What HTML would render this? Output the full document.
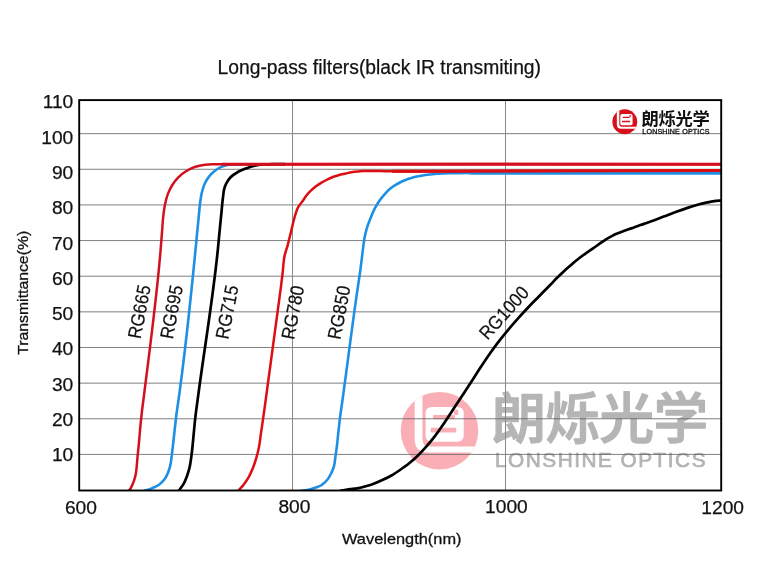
<!DOCTYPE html>
<html lang="en"><head><meta charset="utf-8"><title>Long-pass filters(black IR transmiting)</title>
<style>html,body{margin:0;padding:0;background:#fff}body{width:758px;height:561px;overflow:hidden}svg{display:block;will-change:transform}text{font-family:"Liberation Sans",sans-serif;paint-order:stroke}</style></head>
<body>
<svg width="758" height="561" viewBox="0 0 758 561">
<defs><clipPath id="cc"><circle cx="0" cy="0" r="1"/></clipPath><clipPath id="plot"><rect x="79" y="100" width="642.5" height="391"/></clipPath></defs>
<rect width="758" height="561" fill="#fff"/>
<g>
<circle cx="439.5" cy="430.7" r="38.8" fill="#f9afb5"/><g transform="translate(439.5,430.7) scale(38.8)" clip-path="url(#cc)"><path d="M-0.640,-1 V0.22 Q-0.640,0.56 -0.290,0.56 H1 V0.41 H-0.270 Q-0.440,0.41 -0.440,0.210 V-1 Z" fill="#fff"/><rect x="-0.358" y="-0.613" width="0.982" height="0.899" rx="0.15" fill="#fff"/><rect x="-0.165" y="-0.405" width="0.56" height="0.112" rx="0.03" fill="#f9afb5"/><rect x="-0.229" y="-0.077" width="0.66" height="0.121" rx="0.03" fill="#f9afb5"/><rect x="0.375" y="-0.54" width="0.11" height="0.135" fill="#f9afb5"/></g>
<g fill="#b5b5b5" stroke="#b5b5b5" stroke-width="1.3" stroke-linejoin="round"><text x="491.6" y="437.9" font-size="54.6" font-weight="500" textLength="216.5" lengthAdjust="spacing" style="font-family:'Liberation Sans','Noto Sans CJK SC',sans-serif">朗烁光学</text></g>
<text x="495" y="467.2" font-size="20.8" fill="#b3b3b3" stroke="#b3b3b3" stroke-width="0.7" textLength="210.5" lengthAdjust="spacing">LONSHINE OPTICS</text>
</g>
<g><line x1="80" x2="721" y1="133.65" y2="133.65" stroke="#606060" stroke-width="0.8"/><line x1="80" x2="721" y1="169.29" y2="169.29" stroke="#606060" stroke-width="0.8"/><line x1="80" x2="721" y1="204.93" y2="204.93" stroke="#606060" stroke-width="0.8"/><line x1="80" x2="721" y1="240.57" y2="240.57" stroke="#606060" stroke-width="0.8"/><line x1="80" x2="721" y1="276.21" y2="276.21" stroke="#606060" stroke-width="0.8"/><line x1="80" x2="721" y1="311.85" y2="311.85" stroke="#606060" stroke-width="0.8"/><line x1="80" x2="721" y1="347.49" y2="347.49" stroke="#606060" stroke-width="0.8"/><line x1="80" x2="721" y1="383.13" y2="383.13" stroke="#606060" stroke-width="0.8"/><line x1="80" x2="721" y1="418.77" y2="418.77" stroke="#606060" stroke-width="0.8"/><line x1="80" x2="721" y1="454.41" y2="454.41" stroke="#606060" stroke-width="0.8"/><line x1="292.5" x2="292.5" y1="100" y2="490" stroke="#888" stroke-width="1"/><line x1="505.5" x2="505.5" y1="100" y2="490" stroke="#888" stroke-width="1"/></g>
<g fill="none" stroke-width="2.4" stroke-linecap="butt" stroke-linejoin="round" clip-path="url(#plot)">
<path d="M300.0,491.0C302.0,490.8 304.0,490.6 306.0,490.3C309.2,489.8 312.3,488.9 315.3,487.8C317.6,486.9 320.1,486.1 322.1,484.7C324.4,483.2 326.4,481.0 328.1,478.8C329.4,477.0 330.4,474.9 331.4,472.9C332.4,470.7 333.4,468.4 334.0,466.1C334.8,463.4 334.9,460.4 335.3,457.6C335.7,454.8 336.1,452.0 336.5,449.2C337.2,444.1 337.6,439.0 338.2,433.9C338.8,428.8 339.3,423.7 339.9,418.6C340.7,412.4 341.6,406.2 342.5,400.0C347.6,363.4 352.0,326.7 357.4,290.1C358.3,283.8 359.3,277.6 360.2,271.3C361.0,265.1 361.7,259.0 362.5,252.8C363.2,247.4 363.7,241.9 364.8,236.5C365.4,233.4 366.2,230.3 367.1,227.3C368.1,224.1 369.4,221.1 370.6,218.0C372.0,214.5 373.4,210.9 375.2,207.6C376.9,204.5 378.8,201.4 381.0,198.6C382.3,196.9 383.6,195.3 385.0,193.8C386.7,192.0 388.4,190.2 390.3,188.6C392.0,187.2 393.8,186.0 395.6,184.9C397.3,183.9 399.0,182.9 400.8,182.0C402.5,181.1 404.3,180.4 406.1,179.7C407.8,179.0 409.6,178.4 411.4,177.9C413.1,177.4 414.9,177.0 416.7,176.6C418.4,176.2 420.2,175.9 421.9,175.6C423.7,175.3 425.4,175.0 427.2,174.8C429.0,174.6 430.7,174.4 432.5,174.2C434.3,174.0 436.0,173.9 437.8,173.8C441.3,173.6 444.8,173.4 448.3,173.3C451.8,173.2 455.4,173.1 458.9,173.1C465.9,173.0 473.0,173.1 480.0,173.1C560.3,173.1 640.7,173.1 721.0,173.1" stroke="#1e90e4" stroke-width="2.6"/>
<path d="M470,173.1 L722,173.1" stroke="#1e90e4" stroke-width="3.0"/>
<path d="M144.0,491.0C145.3,490.6 146.7,490.3 148.0,489.8C149.4,489.3 150.8,488.7 152.2,488.1C154.5,487.1 157.0,486.1 159.0,484.7C161.2,483.1 163.3,481.0 164.9,478.8C166.3,476.8 167.4,474.3 168.3,472.0C169.3,469.6 169.9,467.0 170.5,464.4C171.1,461.6 171.3,458.7 171.7,455.9C172.1,452.5 172.5,449.2 172.9,445.8C173.5,440.7 174.0,435.6 174.6,430.5C175.2,425.4 175.7,420.4 176.3,415.3C177.0,410.2 177.8,405.1 178.5,400.0C185.5,350.2 190.6,300.1 195.5,250.0C196.1,244.1 196.6,238.1 197.2,232.2C197.8,226.5 198.3,220.7 198.9,215.0C199.4,210.4 199.6,205.8 200.3,201.3C200.8,198.2 201.2,195.0 202.0,191.9C202.8,189.0 203.6,186.0 204.9,183.3C206.1,180.9 207.5,178.5 209.2,176.4C210.7,174.5 212.4,172.8 214.3,171.3C216.1,169.8 218.2,168.3 220.3,167.3C222.5,166.2 224.8,165.5 227.2,165.0C230.1,164.4 233.1,164.5 236.0,164.3C240.7,164.1 245.3,164.3 250.0,164.2" stroke="#1e90e4" stroke-width="2.6"/>
<path d="M340.0,491.0C343.4,490.4 346.9,489.7 350.3,489.2C352.6,488.9 354.9,488.7 357.2,488.3C360.1,487.8 362.9,487.1 365.7,486.3C368.6,485.5 371.5,484.6 374.3,483.5C377.2,482.4 380.1,481.1 382.9,479.8C385.8,478.5 388.7,477.1 391.5,475.5C394.4,473.8 397.2,471.9 400.0,470.0C402.9,468.0 405.8,466.0 408.6,463.8C411.6,461.4 414.5,458.9 417.2,456.3C420.2,453.4 423.0,450.3 425.8,447.2C428.7,443.9 431.6,440.4 434.3,436.9C437.3,433.0 440.1,428.9 442.9,424.9C445.8,420.7 448.7,416.3 451.5,412.0C454.1,408.1 456.6,404.1 459.2,400.2C461.0,397.5 462.7,394.9 464.5,392.2C466.3,389.4 468.2,386.6 470.0,383.8C473.3,378.8 476.5,373.6 479.8,368.6C483.0,363.7 486.2,358.8 489.6,354.0C492.8,349.5 496.0,345.1 499.4,340.7C502.6,336.6 505.9,332.6 509.2,328.6C512.4,324.8 515.7,321.1 519.0,317.4C522.2,313.8 525.5,310.3 528.8,306.8C532.0,303.4 535.3,300.1 538.6,296.7C541.1,294.2 543.5,291.7 546.0,289.2C547.8,287.3 549.6,285.5 551.4,283.7C553.5,281.5 555.6,279.2 557.8,277.1C559.2,275.7 560.7,274.4 562.1,273.0C563.9,271.4 565.7,269.7 567.5,268.1C569.3,266.5 571.0,265.0 572.8,263.4C574.6,261.9 576.4,260.4 578.2,259.0C579.9,257.6 581.7,256.3 583.5,255.0C585.8,253.4 588.1,251.8 590.4,250.2C592.2,249.0 593.9,247.7 595.7,246.5C597.5,245.2 599.3,243.9 601.1,242.6C602.8,241.4 604.6,240.2 606.4,239.1C608.2,238.1 610.0,237.0 611.8,236.1C613.5,235.2 615.3,234.3 617.1,233.6C618.9,232.8 620.7,232.1 622.5,231.4C624.3,230.7 626.0,230.1 627.8,229.5C629.6,228.9 631.4,228.3 633.2,227.7C635.0,227.0 636.7,226.4 638.5,225.8C640.3,225.2 642.1,224.5 643.9,223.9C645.7,223.3 647.4,222.6 649.2,222.0C651.1,221.3 653.1,220.6 655.0,219.9C657.9,218.8 660.8,217.7 663.7,216.6C667.7,215.1 671.6,213.5 675.6,212.1C679.6,210.6 683.5,209.2 687.5,207.9C691.4,206.6 695.4,205.3 699.4,204.2C703.3,203.2 707.2,202.2 711.2,201.6C713.9,201.2 716.7,200.8 719.5,200.7C720.3,200.7 721.2,200.7 722.0,200.7" stroke="#000" stroke-width="2.7"/>
<path d="M178.6,491.0C179.0,490.5 179.3,490.0 179.7,489.5C181.0,487.7 182.5,485.9 183.6,483.9C185.0,481.5 185.9,478.9 186.9,476.3C187.9,473.5 188.8,470.7 189.5,467.8C190.3,464.5 190.7,461.0 191.2,457.6C191.7,454.2 192.0,450.9 192.4,447.5C192.9,443.0 193.3,438.4 193.7,433.9C194.3,428.2 194.7,422.6 195.4,416.9C196.0,411.3 196.9,405.6 197.6,400.0C204.1,350.0 212.8,300.2 217.8,250.0C218.4,244.1 218.9,238.1 219.5,232.2C220.1,226.5 220.6,220.7 221.2,215.0C221.8,209.3 222.2,203.6 222.9,197.9C223.3,195.0 223.4,192.1 224.1,189.3C224.6,187.3 225.3,185.2 226.3,183.3C227.4,181.1 228.9,179.1 230.6,177.3C232.6,175.3 235.0,173.6 237.5,172.2C240.2,170.6 243.2,169.5 246.1,168.4C248.9,167.3 251.7,166.3 254.6,165.6C257.4,165.0 260.3,164.7 263.2,164.5C266.1,164.3 269.1,164.3 272.0,164.2C276.3,164.2 280.7,164.2 285.0,164.2" stroke="#000" stroke-width="2.7"/>
<path d="M238.0,491.0C238.5,490.5 238.9,490.0 239.4,489.5C240.8,487.9 242.3,486.4 243.6,484.7C245.5,482.3 247.2,479.7 248.7,477.1C250.4,474.1 251.7,471.0 253.0,467.8C254.3,464.5 255.4,461.0 256.4,457.6C257.4,454.3 258.2,450.9 258.9,447.5C259.8,443.0 260.2,438.4 260.9,433.9C261.6,428.8 262.4,423.7 263.1,418.6C264.0,412.4 264.8,406.2 265.7,400.0C270.8,363.4 275.9,326.8 280.5,290.1C281.3,283.8 282.1,277.6 282.8,271.3C283.4,265.9 283.5,260.4 284.7,255.1C285.4,252.0 286.6,248.9 287.5,245.8C288.8,241.2 289.8,236.5 291.0,231.9C292.1,227.3 293.0,222.6 294.4,218.0C295.4,214.5 296.2,210.8 297.9,207.6C299.3,204.9 301.5,202.7 303.2,200.2C304.3,198.5 305.4,196.8 306.6,195.2C307.8,193.6 309.2,192.2 310.6,190.8C312.2,189.3 313.9,187.8 315.6,186.5C317.4,185.2 319.2,183.9 321.1,182.8C322.8,181.8 324.5,180.9 326.3,180.0C328.1,179.1 329.9,178.2 331.7,177.5C333.4,176.8 335.2,176.2 337.0,175.7C338.7,175.2 340.5,174.7 342.2,174.3C344.0,173.9 345.7,173.5 347.5,173.1C349.3,172.7 351.0,172.4 352.8,172.1C354.5,171.8 356.3,171.6 358.0,171.4C359.8,171.2 361.5,171.1 363.3,171.0C366.8,170.8 370.4,170.9 373.9,170.9C377.6,170.9 381.3,171.1 385.0,171.2C390.0,171.3 395.0,171.3 400.0,171.4C426.7,171.7 453.3,171.2 480.0,171.1C510.0,171.0 540.0,170.8 570.0,170.8C596.7,170.7 623.3,170.6 650.0,170.6C673.7,170.5 697.3,170.5 721.0,170.4" stroke="#dc0e12" stroke-width="2.5"/>
<path d="M392,171.3 L722,170.45" stroke="#dc0e12" stroke-width="3.0"/>
<path d="M128.6,491.0C129.0,490.5 129.4,490.0 129.8,489.5C131.0,487.8 131.9,485.8 132.7,483.9C133.8,481.5 134.7,478.9 135.3,476.3C136.0,473.5 136.3,470.6 136.6,467.8C136.9,465.0 137.0,462.1 137.3,459.3C137.5,457.6 137.6,455.9 137.8,454.2C138.2,450.3 138.6,446.3 139.0,442.4C139.5,437.3 139.8,432.2 140.3,427.1C140.7,422.6 141.2,418.1 141.7,413.6C142.2,409.1 142.8,404.5 143.4,400.0C149.6,350.1 156.5,300.2 160.6,250.0C161.1,244.1 161.5,238.1 162.0,232.2C162.5,226.5 162.7,220.7 163.4,215.0C163.9,211.3 164.3,207.6 165.1,203.9C165.9,200.4 166.7,196.9 168.0,193.6C169.2,190.6 170.6,187.7 172.3,185.0C174.0,182.3 176.0,179.6 178.3,177.3C180.6,175.0 183.3,173.0 186.0,171.3C188.7,169.6 191.6,168.1 194.6,167.0C197.9,165.8 201.4,165.1 204.9,164.7C208.3,164.3 211.8,164.4 215.2,164.3C220.1,164.2 225.1,164.3 230.0,164.2C393.7,163.7 557.3,164.2 721.0,164.2" stroke="#d40f1e" stroke-width="2.5"/>
<path d="M222,164.25 L722,164.25" stroke="#d40f1e" stroke-width="3.0"/>
</g>
<rect x="79.2" y="100.1" width="642" height="390.4" fill="none" stroke="#000" stroke-width="1.9"/>
<circle cx="624.8" cy="121.7" r="12.45" fill="#d8101c"/><g transform="translate(624.8,121.7) scale(12.45)" clip-path="url(#cc)"><path d="M-0.640,-1 V0.22 Q-0.640,0.56 -0.290,0.56 H1 V0.41 H-0.270 Q-0.440,0.41 -0.440,0.210 V-1 Z" fill="#fff"/><rect x="-0.358" y="-0.613" width="0.982" height="0.899" rx="0.15" fill="#fff"/><rect x="-0.165" y="-0.405" width="0.56" height="0.112" rx="0.03" fill="#d8101c"/><rect x="-0.229" y="-0.077" width="0.66" height="0.121" rx="0.03" fill="#d8101c"/><rect x="0.375" y="-0.54" width="0.11" height="0.135" fill="#d8101c"/></g>
<g fill="#111"><text x="641.6" y="124.6" font-size="17.3" font-weight="bold" textLength="68.3" lengthAdjust="spacing" style="font-family:'Liberation Sans','Noto Sans CJK SC',sans-serif">朗烁光学</text></g>
<text x="642.3" y="133.8" font-size="7.1" fill="#111" stroke="#111" stroke-width="0.3" textLength="67.2" lengthAdjust="spacing">LONSHINE OPTICS</text>
<text transform="translate(140.60,339.60) rotate(-79) scale(0.9,1)" font-size="19" fill="#111" stroke="#111" stroke-width="0.2">RG665</text>
<text transform="translate(172.65,339.75) rotate(-79) scale(0.9,1)" font-size="19" fill="#111" stroke="#111" stroke-width="0.2">RG695</text>
<text transform="translate(228.20,339.90) rotate(-79) scale(0.9,1)" font-size="19" fill="#111" stroke="#111" stroke-width="0.2">RG715</text>
<text transform="translate(294.00,340.30) rotate(-79) scale(0.9,1)" font-size="19" fill="#111" stroke="#111" stroke-width="0.2">RG780</text>
<text transform="translate(340.30,340.30) rotate(-79) scale(0.9,1)" font-size="19" fill="#111" stroke="#111" stroke-width="0.2">RG850</text>
<text transform="translate(487.50,340.80) rotate(-48) scale(0.9,1)" font-size="19" fill="#111" stroke="#111" stroke-width="0.2">RG1000</text>
<text x="217.5" y="74.3" font-size="19.6" fill="#111" stroke="#111" stroke-width="0.25" textLength="323.5" lengthAdjust="spacingAndGlyphs">Long-pass filters(black IR transmiting)</text>
<text x="73.3" y="108.2" font-size="19.2" text-anchor="end" fill="#111" stroke="#111" stroke-width="0.25">110</text>
<text x="73.3" y="143.8" font-size="19.2" text-anchor="end" fill="#111" stroke="#111" stroke-width="0.25">100</text>
<text x="73.3" y="179.0" font-size="19.2" text-anchor="end" fill="#111" stroke="#111" stroke-width="0.25">90</text>
<text x="73.3" y="214.3" font-size="19.2" text-anchor="end" fill="#111" stroke="#111" stroke-width="0.25">80</text>
<text x="73.3" y="249.5" font-size="19.2" text-anchor="end" fill="#111" stroke="#111" stroke-width="0.25">70</text>
<text x="73.3" y="284.8" font-size="19.2" text-anchor="end" fill="#111" stroke="#111" stroke-width="0.25">60</text>
<text x="73.3" y="320.1" font-size="19.2" text-anchor="end" fill="#111" stroke="#111" stroke-width="0.25">50</text>
<text x="73.3" y="355.3" font-size="19.2" text-anchor="end" fill="#111" stroke="#111" stroke-width="0.25">40</text>
<text x="73.3" y="390.6" font-size="19.2" text-anchor="end" fill="#111" stroke="#111" stroke-width="0.25">30</text>
<text x="73.3" y="425.8" font-size="19.2" text-anchor="end" fill="#111" stroke="#111" stroke-width="0.25">20</text>
<text x="73.3" y="461.1" font-size="19.2" text-anchor="end" fill="#111" stroke="#111" stroke-width="0.25">10</text>
<text x="80.9" y="513.6" font-size="19.2" text-anchor="middle" fill="#111" stroke="#111" stroke-width="0.25">600</text>
<text x="294.4" y="512.9" font-size="19.2" text-anchor="middle" fill="#111" stroke="#111" stroke-width="0.25">800</text>
<text x="506.4" y="512.5" font-size="19.2" text-anchor="middle" fill="#111" stroke="#111" stroke-width="0.25">1000</text>
<text x="722.7" y="514.0" font-size="19.2" text-anchor="middle" fill="#111" stroke="#111" stroke-width="0.25">1200</text>
<text x="342" y="543.7" font-size="15" fill="#111" stroke="#111" stroke-width="0.3" textLength="119.5" lengthAdjust="spacingAndGlyphs">Wavelength(nm)</text>
<text transform="translate(27.7,354.8) rotate(-90)" font-size="15" fill="#111" stroke="#111" stroke-width="0.3" textLength="124" lengthAdjust="spacingAndGlyphs">Transmittance(%)</text>
</svg>
</body></html>
